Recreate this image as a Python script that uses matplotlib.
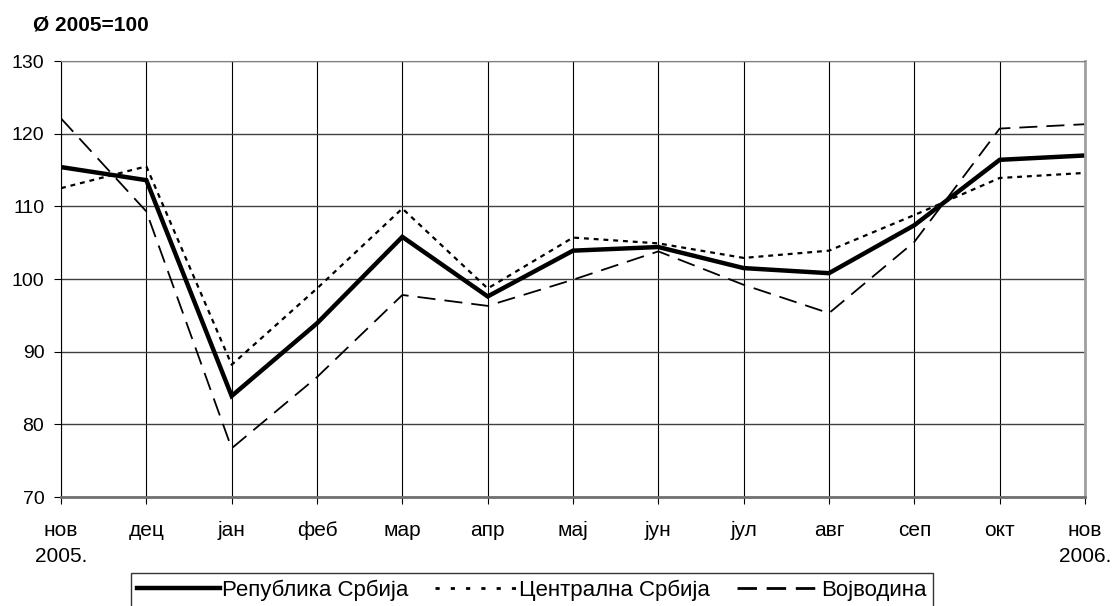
import matplotlib.pyplot as plt
import numpy as np

plt.rcParams['font.family'] = ['Liberation Sans', 'DejaVu Sans']

meseci = ['нов\n2005.', 'дец', 'јан', 'феб', 'мар', 'апр', 'мај', 'јун',
          'јул', 'авг', 'сеп', 'окт', 'нов\n2006.']
srbija = [115.4, 113.6, 83.9, 93.9, 105.8, 97.6, 103.9, 104.4, 101.5, 100.8, 107.4, 116.4, 117.0]
centralna = [112.5, 115.5, 88.2, 98.7, 109.7, 98.7, 105.7, 104.9, 102.9, 103.9, 108.8, 113.9, 114.6]
vojvodina = [122.1, 109.3, 76.7, 86.5, 97.8, 96.3, 99.9, 103.8, 99.2, 95.3, 105.1, 120.7, 121.3]
nazivi = ['Република Србија', 'Централна Србија', 'Војводина']

fig = plt.figure(figsize=(11.12, 6.06), dpi=100)
ax = fig.add_axes([61/1112, 109/606, 1024/1112, 436/606])

x = np.arange(len(meseci))
ax.plot(x, srbija, color='black', lw=3.2, label=nazivi[0], solid_joinstyle='miter')
ax.plot(x, centralna, color='black', lw=1.6, dashes=(2.2, 2.2), label=nazivi[1])
ax.plot(x, vojvodina, color='black', lw=1.3, dashes=(10, 5), label=nazivi[2])

ax.set_xlim(0, len(meseci) - 1)
ax.set_ylim(70, 130)
ax.set_yticks(np.arange(70, 131, 10))
ax.set_xticks(x)
ax.set_xticklabels(meseci, fontsize=15, linespacing=1.5)
ax.tick_params(axis='y', labelsize=14, length=5, direction='out', color='black', pad=7)
ax.tick_params(axis='x', length=5, direction='out', color='black', pad=12)

ax.grid(axis='y', color='#404040', lw=1)
ax.grid(axis='x', color='black', lw=0.8)
ax.set_axisbelow(True)
ax.spines['left'].set_color('black')
ax.spines['top'].set_color('#808080')
ax.spines['right'].set_color('#a0a0a0')
ax.spines['right'].set_linewidth(2)
ax.spines['bottom'].set_color('#707070')
ax.spines['bottom'].set_linewidth(2)

fig.text(33/1112, 1 - 25/606, 'Ø 2005=100', fontsize=15, fontweight='bold', va='center')

leg = fig.legend(loc='upper center', bbox_to_anchor=(532/1112, 33/606), ncol=3,
                 fontsize=16, frameon=True, fancybox=False, edgecolor='black',
                 handlelength=3.7, handletextpad=0.1, columnspacing=1.2,
                 borderpad=0.3, borderaxespad=0)
leg.get_frame().set_linewidth(1)
# legend handles a bit heavier, like the original
lh = leg.get_lines()
lh[1].set_linewidth(2)
lh[1].set_dashes((1.5, 4))
lh[2].set_linewidth(2)
lh[2].set_dashes((7, 3.5))

fig.savefig('out.png', dpi=100)
